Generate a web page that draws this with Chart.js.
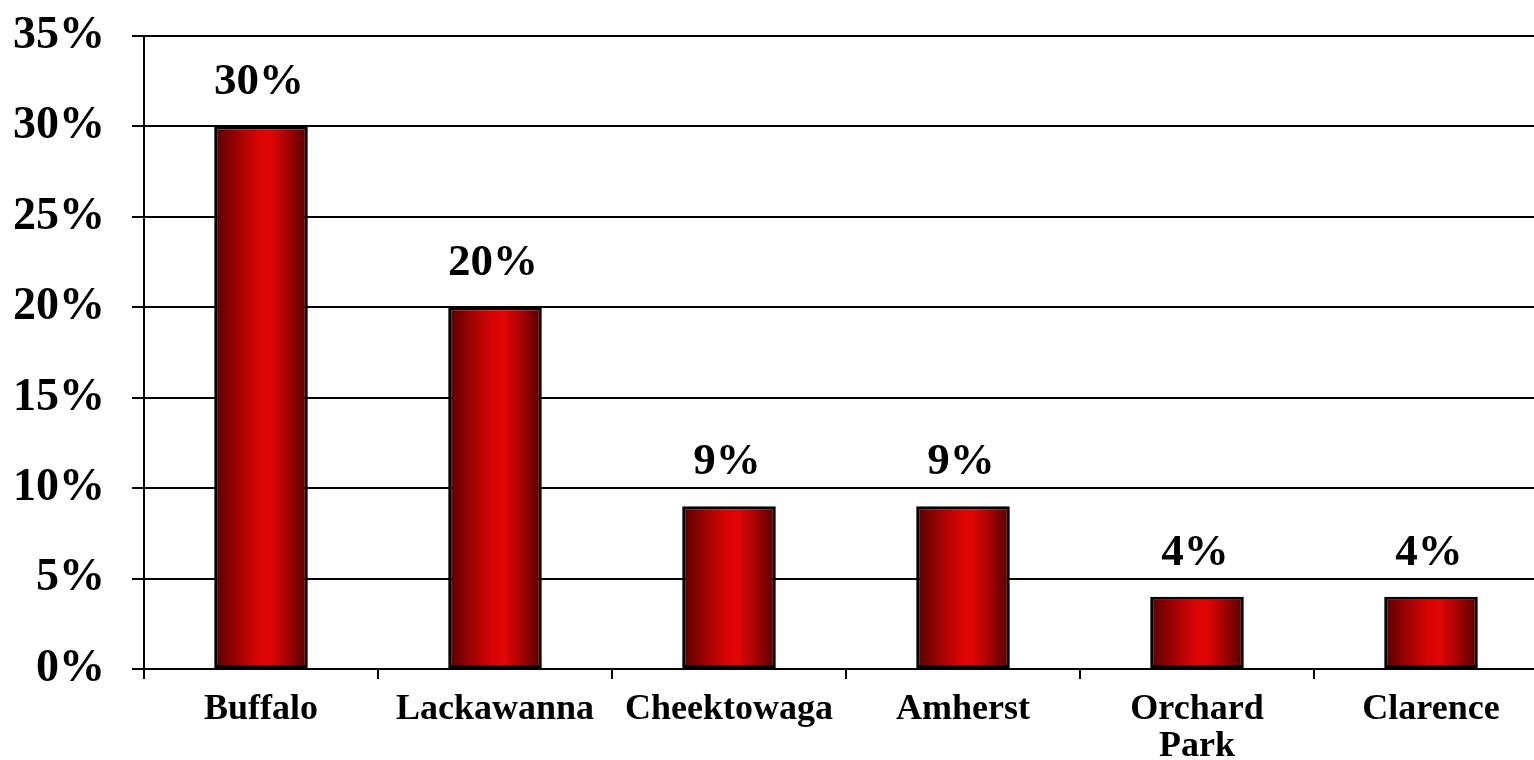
<!DOCTYPE html>
<html>
<head>
<meta charset="utf-8">
<script src="https://cdn.jsdelivr.net/npm/chart.js@4/dist/chart.umd.min.js"></script>
<style>
    html, body { margin: 0; padding: 0; background: #fff; overflow: hidden; }
    #wrap { width: 1548px; height: 760px; position: relative; }
</style>
</head>
<body>
<div id="wrap"><canvas id="shareChart"></canvas></div>
<script>
// Share of respondents by town
const towns = ['Buffalo', 'Lackawanna', 'Cheektowaga', 'Amherst', ['Orchard', 'Park'], 'Clarence'];
const shares = [30, 20, 9, 9, 4, 4];
const yTicks = [0, 5, 10, 15, 20, 25, 30, 35];

const serif = "'Liberation Serif', 'Times New Roman', serif";
const BAR_PCT = 0.4;

// Horizontal dark-bright-dark shading for each bar
function barGradient(ctx) {
    const chart = ctx.chart;
    const xScale = chart.scales.x;
    if (!chart.chartArea || !xScale) return '#c00000';
    const center = xScale.getPixelForValue(ctx.dataIndex);
    const half = (xScale.width / towns.length) * BAR_PCT / 2;
    const g = chart.ctx.createLinearGradient(center - half, 0, center + half, 0);
    g.addColorStop(0, '#560000');
    g.addColorStop(0.25, '#a00202');
    g.addColorStop(0.48, '#da0404');
    g.addColorStop(0.6, '#e00606');
    g.addColorStop(0.8, '#a00202');
    g.addColorStop(1, '#500000');
    return g;
}

// Value labels above the bars
const valueLabels = {
    id: 'valueLabels',
    afterDatasetsDraw(chart) {
        const ctx = chart.ctx;
        const meta = chart.getDatasetMeta(0);
        ctx.save();
        ctx.font = 'bold 45px ' + serif;
        ctx.fillStyle = '#000';
        ctx.textAlign = 'center';
        ctx.textBaseline = 'alphabetic';
        meta.data.forEach((bar, i) => {
            ctx.fillText(shares[i] + '%', bar.x - 2, bar.y - 32);
        });
        ctx.restore();
    }
};

new Chart(document.getElementById('shareChart'), {
    type: 'bar',
    data: {
        labels: towns,
        datasets: [{
            data: shares,
            backgroundColor: barGradient,
            borderColor: '#000',
            borderWidth: 3,
            borderSkipped: false,
            barPercentage: BAR_PCT,
            categoryPercentage: 1
        }]
    },
    options: {
        responsive: true,
        maintainAspectRatio: false,
        animation: false,
        layout: { padding: { top: 36, right: 0, left: 0, bottom: 0 } },
        plugins: {
            legend: { display: false },
            tooltip: { enabled: false }
        },
        scales: {
            x: {
                offset: true,
                grid: {
                    offset: true,
                    drawOnChartArea: false,
                    drawTicks: true,
                    tickLength: 10,
                    color: '#000',
                    lineWidth: 2
                },
                border: { display: true, color: '#000', width: 2 },
                ticks: {
                    color: '#000',
                    padding: 12,
                    maxRotation: 0,
                    autoSkip: false,
                    font: { family: serif, size: 36, weight: 'bold', lineHeight: 1.04 }
                },
                afterFit(scale) {
                    scale.height = 91;
                    scale.paddingLeft = 0;
                    scale.paddingRight = 0;
                }
            },
            y: {
                min: 0,
                max: 35,
                afterBuildTicks(scale) {
                    scale.ticks = yTicks.map(v => ({ value: v }));
                },
                grid: {
                    color: '#000',
                    lineWidth: 2,
                    drawTicks: true,
                    tickLength: 12
                },
                border: { display: true, color: '#000', width: 2 },
                ticks: {
                    color: '#000',
                    padding: 27,
                    callback: v => v + '%',
                    font: { family: serif, size: 46, weight: 'bold' }
                },
                afterFit(scale) {
                    scale.width = 144;
                    scale.paddingTop = 0;
                    scale.paddingBottom = 0;
                }
            }
        }
    },
    plugins: [valueLabels]
});
</script>
</body>
</html>
